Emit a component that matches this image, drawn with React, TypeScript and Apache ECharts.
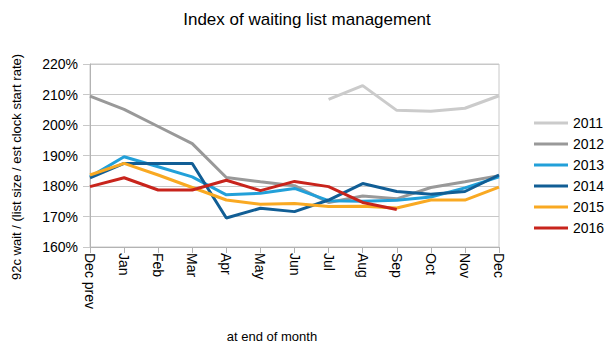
import React, { useEffect, useRef } from "react";
import * as echarts from "echarts";

const months = ["Dec prev", "Jan", "Feb", "Mar", "Apr", "May", "Jun", "Jul", "Aug", "Sep", "Oct", "Nov", "Dec"];
const yTicks = [160, 170, 180, 190, 200, 210, 220];

const s2011 = [null, null, null, null, null, null, null, 208.4, 212.9, 204.8, 204.5, 205.5, 209.6];
const s2012 = [209.5, 205.1, 199.5, 193.9, 182.8, 181.4, 180.1, 174.6, 176.7, 175.8, 179.5, 181.4, 183.4];
const s2013 = [183.0, 189.6, 186.3, 183.0, 177.1, 177.6, 179.2, 175.2, 175.0, 175.3, 176.4, 179.4, 183.0];
const s2014 = [182.7, 187.4, 187.4, 187.4, 169.5, 172.7, 171.6, 175.4, 180.8, 178.2, 177.3, 178.2, 183.6];
const s2015 = [183.6, 187.4, 183.6, 179.5, 175.4, 174.0, 174.3, 173.3, 173.4, 172.8, 175.4, 175.4, 179.6];
const s2016 = [179.8, 182.7, 178.7, 178.7, 181.9, 178.5, 181.5, 179.8, 174.6, 172.3, null, null, null];

const seriesDefs = [
  { name: "2011", data: s2011, color: "#cbcbcb" },
  { name: "2012", data: s2012, color: "#999999" },
  { name: "2013", data: s2013, color: "#22a0d9" },
  { name: "2014", data: s2014, color: "#115e95" },
  { name: "2015", data: s2015, color: "#f9a922" },
  { name: "2016", data: s2016, color: "#c8241c" },
];

export default function App() {
  const ref = useRef<HTMLDivElement>(null);
  useEffect(() => {
    if (!ref.current) return;
    const chart = echarts.init(ref.current, null, { renderer: "svg" });
    const font = "Liberation Sans, Arial, sans-serif";
    chart.setOption({
      animation: false,
      backgroundColor: "#ffffff",
      textStyle: { fontFamily: font },
      title: {
        text: "Index of waiting list management",
        left: "center",
        top: 6,
        textStyle: { fontFamily: font, fontSize: 17, fontWeight: "normal", color: "#000" },
      },
      legend: {
        orient: "vertical",
        left: 529,
        top: 111,
        padding: 5,
        itemWidth: 34,
        itemHeight: 3,
        itemGap: 7,
        icon: "rect",
        textStyle: { fontFamily: font, fontSize: 14, lineHeight: 14, color: "#000", padding: [0, 0, 0, 0] },
        data: seriesDefs.map((s) => s.name),
      },
      grid: {
        left: 90,
        right: 115,
        top: 64,
        bottom: 102,
        show: true,
        borderColor: "#c8c8c8",
        borderWidth: 1,
      },
      xAxis: {
        type: "category",
        data: months,
        boundaryGap: false,
        axisLine: { lineStyle: { color: "#b3b3b3" } },
        axisTick: { show: true, length: 6, lineStyle: { color: "#b3b3b3" }, alignWithLabel: true },
        axisLabel: { rotate: -90, color: "#000", fontSize: 14, fontFamily: font, margin: 6, interval: 0 },
        splitLine: { show: false },
      },
      yAxis: {
        type: "value",
        min: 160,
        max: 220,
        interval: 10,
        axisLine: { show: true, lineStyle: { color: "#b3b3b3" } },
        axisTick: { show: true, length: 7, lineStyle: { color: "#c8c8c8" } },
        axisLabel: { color: "#000", fontSize: 14, fontFamily: font, formatter: "{value}%", margin: 12 },
        splitLine: { show: true, lineStyle: { color: "#c8c8c8" } },
      },
      graphic: [
        {
          type: "text",
          x: 16,
          y: 167,
          rotation: Math.PI / 2,
          style: {
            text: "92c wait / (list size / est clock start rate)",
            fontFamily: font,
            fontSize: 13,
            fill: "#000",
            align: "center",
            verticalAlign: "middle",
          },
        },
        {
          type: "text",
          x: 272,
          y: 336,
          style: {
            text: "at end of month",
            fontFamily: font,
            fontSize: 13,
            fill: "#000",
            align: "center",
            verticalAlign: "middle",
          },
        },
      ],
      series: seriesDefs.map((s) => ({
        name: s.name,
        type: "line",
        data: s.data,
        symbol: "none",
        connectNulls: false,
        lineStyle: { width: 3, color: s.color },
        itemStyle: { color: s.color },
      })),
    });
    return () => chart.dispose();
  }, []);
  return <div ref={ref} style={{ width: 614, height: 349, margin: -8 }} />;
}
